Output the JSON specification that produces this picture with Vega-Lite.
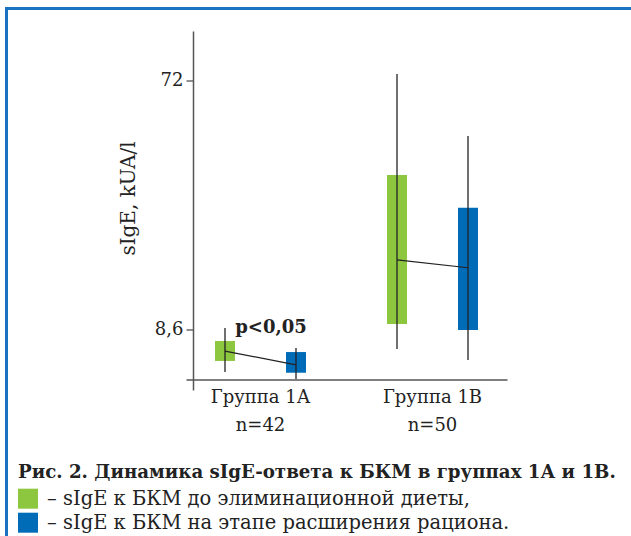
{
  "$schema": "https://vega.github.io/schema/vega-lite/v6.json",
  "width": 628.5,
  "height": 531.5,
  "autosize": {"type": "none"},
  "padding": {"left": 6.5, "top": 8.5, "right": -4, "bottom": -4},
  "background": "white",
  "config": {
    "font": "DejaVu Serif",
    "view": {"stroke": "#1a73c0", "strokeWidth": 3},
    "axis": {"grid": false, "labelFont": "DejaVu Serif", "titleFont": "DejaVu Serif"},
    "legend": {"labelFont": "DejaVu Serif", "titleFont": "DejaVu Serif"},
    "text": {"font": "DejaVu Serif"}
  },
  "data": {
    "values": [
      {"group": "Группа 1А", "series": "– sIgE к БКМ до элиминационной диеты,", "lo": 6.02, "q1": 6.61, "mid": 7.19, "q3": 7.83, "hi": 8.75},
      {"group": "Группа 1А", "series": "– sIgE к БКМ на этапе расширения рациона.", "lo": 5.67, "q1": 5.98, "mid": 6.39, "q3": 7.13, "hi": 7.38},
      {"group": "Группа 1В", "series": "– sIgE к БКМ до элиминационной диеты,", "lo": 7.32, "q1": 9.05, "mid": 15.6, "q3": 32.1, "hi": 75.8},
      {"group": "Группа 1В", "series": "– sIgE к БКМ на этапе расширения рациона.", "lo": 6.66, "q1": 8.6, "mid": 14.6, "q3": 24.3, "hi": 44.7}
    ]
  },
  "encoding": {
    "x": {
      "field": "group", "type": "nominal",
      "scale": {"domain": ["Группа 1А", "Группа 1В"], "range": [179.5, 500.5], "paddingInner": 0.1337, "paddingOuter": 0},
      "axis": {
        "offset": -160.5, "ticks": false, "domainColor": "#555", "domainWidth": 1.5,
        "labelAngle": 0, "labelFontSize": 18, "labelColor": "#222", "labelPadding": 9,
        "labelLineHeight": 28, "labelFont": "DejaVu Serif",
        "labelExpr": "datum.value == 'Группа 1А' ? ['Группа 1А', 'n=42'] : ['Группа 1В', 'n=50']",
        "title": null
      }
    },
    "xOffset": {
      "field": "series", "type": "nominal",
      "scale": {"domain": ["– sIgE к БКМ до элиминационной диеты,", "– sIgE к БКМ на этапе расширения рациона."], "paddingInner": 0, "paddingOuter": 0.0493}
    }
  },
  "layer": [
    {
      "mark": {"type": "bar", "width": 20},
      "encoding": {
        "y": {
          "field": "q1", "type": "quantitative",
          "scale": {"type": "log", "domain": [5.164, 109.2], "range": [381.5, 22.5], "nice": false, "zero": false},
          "axis": {
            "values": [8.6, 72], "labelExpr": "datum.value == 72 ? '72' : '8,6'",
            "offset": -186.5, "tickSize": 7, "tickColor": "#444", "tickWidth": 1.2,
            "domainColor": "#555", "domainWidth": 1.5,
            "labelFontSize": 18, "labelColor": "#222", "labelPadding": 3, "labelFont": "DejaVu Serif",
            "title": "sIgE, kUA/l", "titleFontSize": 20, "titleFontWeight": "normal", "titleColor": "#222", "titleFont": "DejaVu Serif",
            "titleX": -64.5, "titleY": 189.5, "titleAngle": -90, "titleAlign": "center", "titleBaseline": "middle"
          }
        },
        "y2": {"field": "q3"},
        "color": {
          "field": "series", "type": "nominal",
          "scale": {"domain": ["– sIgE к БКМ до элиминационной диеты,", "– sIgE к БКМ на этапе расширения рациона."], "range": ["#8dc63f", "#006cb7"]},
          "legend": {
            "orient": "none", "legendX": 11.5, "legendY": 455,
            "title": "Рис. 2. Динамика sIgE-ответа к БКМ в группах 1А и 1В.",
            "titleFont": "DejaVu Serif", "labelFont": "DejaVu Serif",
            "titleFontSize": 18.2, "titleFontWeight": "bold", "titleColor": "#222", "titleLimit": 700, "titlePadding": 7,
            "labelFontSize": 19.5, "labelColor": "#222", "labelLimit": 700, "labelOffset": 9,
            "symbolType": "square", "symbolSize": 400, "symbolStrokeWidth": 0, "symbolOpacity": 1,
            "rowPadding": 4, "direction": "vertical"
          }
        }
      }
    },
    {
      "mark": {"type": "rule", "color": "#222", "strokeWidth": 1.3},
      "encoding": {
        "y": {"field": "lo", "type": "quantitative"},
        "y2": {"field": "hi"}
      }
    },
    {
      "mark": {"type": "line", "color": "#222", "strokeWidth": 1.2},
      "encoding": {
        "y": {"field": "mid", "type": "quantitative"},
        "detail": {"field": "group"}
      }
    },
    {
      "data": {"values": [{"group": "Группа 1А", "label": "p<0,05", "pos": 8.38}]},
      "mark": {"type": "text", "font": "DejaVu Serif", "fontWeight": "bold", "fontSize": 18, "dx": 10.5, "baseline": "alphabetic", "color": "#222"},
      "encoding": {
        "x": {"field": "group", "type": "nominal"},
        "xOffset": null,
        "y": {"field": "pos", "type": "quantitative"},
        "text": {"field": "label"}
      }
    }
  ]
}
